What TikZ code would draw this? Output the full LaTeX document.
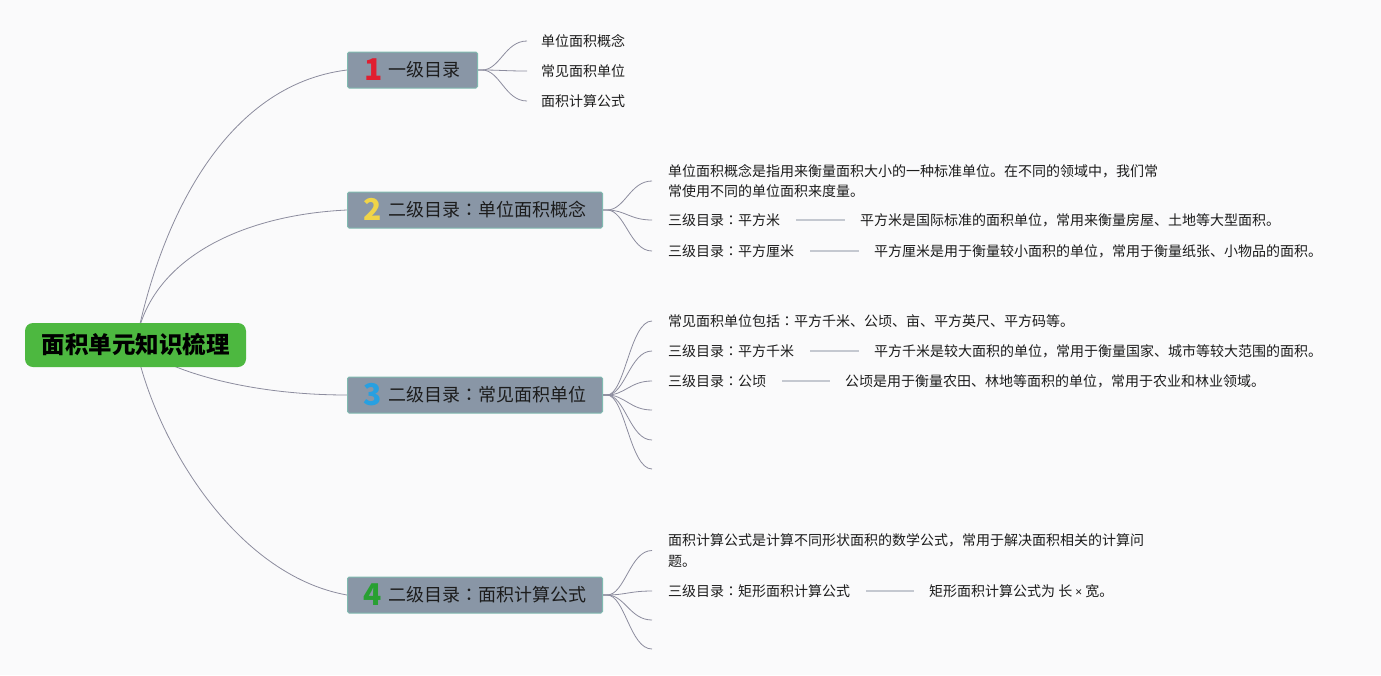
\documentclass[tikz,border=0pt]{standalone}
\usepackage{fontspec}
\setmainfont{Noto Sans CJK SC}
\newfontfamily\tcfont{Noto Sans CJK TC}
\newfontfamily\latinfont{Noto Sans}
\usetikzlibrary{calc}
\pgfdeclarelayer{bg}
\pgfdeclarelayer{edges}
\pgfsetlayers{bg,edges,main}
\definecolor{bgc}{RGB}{250,250,251}
\definecolor{rootg}{RGB}{77,184,64}
\definecolor{lvfill}{RGB}{137,150,166}
\definecolor{lvdraw}{RGB}{128,186,176}
\definecolor{edgec}{RGB}{140,140,158}
\definecolor{sepc}{RGB}{196,200,208}
\definecolor{txtc}{RGB}{28,28,28}
\definecolor{nred}{RGB}{224,30,48}
\definecolor{nyel}{RGB}{240,212,72}
\definecolor{nblue}{RGB}{40,160,225}
\definecolor{ngreen}{RGB}{40,160,50}
\newcommand\lvnum[2]{\raisebox{-4pt}{\fontsize{30}{30}\selectfont\bfseries\textcolor{#1}{#2}}}
\newcommand\cc{{\tcfont ：}}
\tikzset{
  rootbox/.style={fill=rootg, rounded corners=8pt, minimum width=221pt, minimum height=44pt,
    inner sep=0pt, text=black, font=\fontsize{23.5}{28}\selectfont\bfseries,
    text height=20.7pt, text depth=2.8pt},
  lvbox/.style={fill=lvfill, draw=lvdraw, line width=1pt, rounded corners=1.5pt,
    minimum height=36pt, inner xsep=0pt, inner ysep=0pt, anchor=west, text=txtc,
    font=\fontsize{18}{22}\selectfont, text height=15.8pt, text depth=2.2pt},
  txt/.style={anchor=west, inner sep=0pt, text=txtc, font=\fontsize{14}{20}\selectfont,
    text height=12.3pt, text depth=1.7pt},
  txtm/.style={anchor=west, inner sep=0pt, text=txtc, align=left},
  edge/.style={draw=edgec, line width=0.8pt},
  sepline/.style={draw=sepc, line width=1.5pt}
}
\begin{document}
\begin{tikzpicture}[x=1pt,y=-1pt]
\begin{pgfonlayer}{bg}
\fill[bgc] (0,0) rectangle (1381,675);
\end{pgfonlayer}
\useasboundingbox (0,0) rectangle (1381,675);

% root and level-1 nodes
\node[rootbox] (root) at (135.5,345) {面积单元知识梳理};
\node[lvbox, minimum width=130pt] (n1) at (347,70) {\lvnum{nred}{1}\hspace{6pt}一级目录};
\node[lvbox, minimum width=255pt] (n2) at (347,210) {\lvnum{nyel}{2}\hspace{6pt}二级目录\cc 单位面积概念};
\node[lvbox, minimum width=255pt] (n3) at (347,395) {\lvnum{nblue}{3}\hspace{6pt}二级目录\cc 常见面积单位};
\node[lvbox, minimum width=255pt] (n4) at (347,595) {\lvnum{ngreen}{4}\hspace{6pt}二级目录\cc 面积计算公式};

% group 1
\node[txt] (a1) at (541,41) {单位面积概念};
\node[txt] (a2) at (541,71) {常见面积单位};
\node[txt] (a3) at (541,101) {面积计算公式};

% group 2
\node[txtm, font=\fontsize{14}{20}\selectfont] (d2) at (668,181) {单位面积概念是指用来衡量面积大小的一种标准单位。在不同的领域中，我们常\\常使用不同的单位面积来度量。};
\node[txt] (l2a) at (668,220) {三级目录\cc 平方米};
\node[txt] (e2a) at (860,220) {平方米是国际标准的面积单位，常用来衡量房屋、土地等大型面积。};
\node[txt] (l2b) at (668,251) {三级目录\cc 平方厘米};
\node[txt] (e2b) at (874,251) {平方厘米是用于衡量较小面积的单位，常用于衡量纸张、小物品的面积。};

% group 3
\node[txt] (d3) at (668,321) {常见面积单位包括\cc 平方千米、公顷、亩、平方英尺、平方码等。};
\node[txt] (l3a) at (668,351) {三级目录\cc 平方千米};
\node[txt] (e3a) at (874,351) {平方千米是较大面积的单位，常用于衡量国家、城市等较大范围的面积。};
\node[txt] (l3b) at (668,381) {三级目录\cc 公顷};
\node[txt] (e3b) at (845,381) {公顷是用于衡量农田、林地等面积的单位，常用于农业和林业领域。};
\coordinate (x3a) at (652,410);
\coordinate (x3b) at (652,440);
\coordinate (x3c) at (652,469);

% group 4
\node[txtm, font=\fontsize{14}{21}\selectfont] (d4) at (668,550.5) {面积计算公式是计算不同形状面积的数学公式，常用于解决面积相关的计算问\\题。};
\node[txt] (l4a) at (668,591) {三级目录\cc 矩形面积计算公式};
\node[txt] (e4a) at (929,591) {矩形面积计算公式为 长 {\latinfont\fontsize{12}{14}\selectfont ×} 宽。};
\coordinate (x4a) at (652,620);
\coordinate (x4b) at (652,649);

\begin{pgfonlayer}{edges}
\draw[edge] (root.center) .. controls (160,220) and (225,85) .. (n1.west);
\draw[edge] (root.center) .. controls (148,260) and (240,215) .. (n2.west);
\draw[edge] (root.center) .. controls (170,372) and (250,395) .. (n3.west);
\draw[edge] (root.center) .. controls (155,440) and (235,575) .. (n4.west);

\foreach \t in {a1,a2,a3}
  \draw[edge] (n1.east) -- ++(4,0) .. controls +(18,0) and +(-22,0) .. ([xshift=-14pt]\t.west);
\foreach \t in {d2,l2a,l2b}
  \draw[edge] (n2.east) -- ++(4,0) .. controls +(18,0) and +(-22,0) .. ([xshift=-16pt]\t.west);
\foreach \t in {d3,l3a,l3b}
  \draw[edge] (n3.east) -- ++(4,0) .. controls +(18,0) and +(-22,0) .. ([xshift=-16pt]\t.west);
\foreach \t in {x3a,x3b,x3c}
  \draw[edge] (n3.east) -- ++(4,0) .. controls +(18,0) and +(-22,0) .. (\t);
\foreach \t in {d4,l4a}
  \draw[edge] (n4.east) -- ++(4,0) .. controls +(18,0) and +(-22,0) .. ([xshift=-16pt]\t.west);
\foreach \t in {x4a,x4b}
  \draw[edge] (n4.east) -- ++(4,0) .. controls +(18,0) and +(-22,0) .. (\t);

\draw[sepline] ([xshift=16pt]l2a.east) -- ([xshift=-15pt]e2a.west);
\draw[sepline] ([xshift=16pt]l2b.east) -- ([xshift=-15pt]e2b.west);
\draw[sepline] ([xshift=16pt]l3a.east) -- ([xshift=-15pt]e3a.west);
\draw[sepline] ([xshift=16pt]l3b.east) -- ([xshift=-15pt]e3b.west);
\draw[sepline] ([xshift=16pt]l4a.east) -- ([xshift=-15pt]e4a.west);
\end{pgfonlayer}
\end{tikzpicture}
\end{document}
